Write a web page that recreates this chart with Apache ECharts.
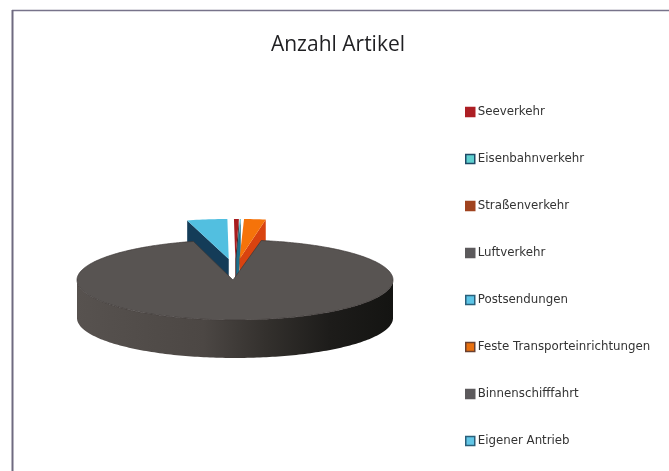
<!DOCTYPE html>
<html>
<head>
<meta charset="utf-8">
<script src="https://cdn.jsdelivr.net/npm/echarts@6/dist/echarts.min.js"></script>
<style>
html,body{margin:0;padding:0;background:#fff;}
#chart{width:669px;height:471px;}
</style>
</head>
<body>
<div id="chart"></div>
<script>
    // Werte aus dem Bild geschaetzt
    var categories = ['Seeverkehr','Eisenbahnverkehr','Straßenverkehr','Luftverkehr','Postsendungen','Feste Transporteinrichtungen','Binnenschifffahrt','Eigener Antrieb'];
    var values = [5,1,22,931,41,0,0,0];

    var topColors = ['#a81c1e','#3fb0c4','#f5730a','#585452','#52bfe0','#e8700f','#585452','#52bfe0'];
    var wallColors = ['#3f0f12','#1c6f8a','#d9430f','#4c4745','#143c58','#a8400f','#3a3634','#143c58'];
    var legendFill = ['#ad1f24','#5fd0d0','#a0431f','#5c5a5c','#5cc4e6','#e8700f','#5c5a5c','#62c6e6'];
    var legendBorder = ['#ad1f24','#1f4a66','#a0431f','#5c5a5c','#2a5f7a','#6a4030','#5c5a5c','#2a5f7a'];

    var cx = 235, cy = 280, rx = 158, ry = 40, depth = 38;
    var apexX = 233;
    var explode = 21;
    var startAngle = -0.5 * Math.PI / 180;
    var total = values.reduce(function (a, b) { return a + b; }, 0);

    function px(a, ox) { return cx + ox + rx * Math.sin(a); }
    function py(a, oy) { return cy + oy - ry * Math.cos(a); }

    function arc(a0, a1, ox, oy) {
        var pts = [], n = Math.max(2, Math.ceil(Math.abs(a1 - a0) / 0.02));
        for (var i = 0; i <= n; i++) {
            var a = a0 + (a1 - a0) * i / n;
            pts.push([px(a, ox), py(a, oy)]);
        }
        return pts;
    }

    function poly(points, fill, z2, stroke) {
        return {
            type: 'polygon',
            shape: { points: points },
            z2: z2,
            style: { fill: fill, stroke: stroke || null, lineWidth: stroke ? 0.7 : 0 }
        };
    }

    function renderSlice(params, api) {
        var i = params.seriesIndex;
        var v = api.value(0);
        if (!v) { return null; }
        var before = 0;
        for (var k = 0; k < i; k++) { before += values[k]; }
        var a0 = startAngle + before / total * Math.PI * 2;
        var a1 = startAngle + (before + v) / total * Math.PI * 2;
        var children = [];

        // die grosse Scheibe bleibt liegen, die kleinen Stuecke sind herausgezogen
        if (v / total > 0.5) {
            var w0 = Math.max(a0, Math.PI / 2), w1 = Math.min(a1, Math.PI * 1.5);
            var upper = arc(w0, w1, 0, 0), lower = arc(w1, w0, 0, depth);
            var grad = new echarts.graphic.LinearGradient(cx - rx, 0, cx + rx, 0, [
                { offset: 0, color: '#57524f' },
                { offset: 0.4, color: '#4c4744' },
                { offset: 0.6, color: '#33302d' },
                { offset: 0.8, color: '#1d1c1a' },
                { offset: 1, color: '#141412' }
            ], true);
            children.push(poly(upper.concat(lower), grad, 1));
            children.push(poly([[apexX, cy]].concat(arc(a0, a1, 0, 0)), topColors[i], 2, '#3d3836'));
        } else {
            var mid = (a0 + a1) / 2;
            var ox = 76 * 0.6 * Math.sin(mid), oy = -explode;
            var ax = cx + ox, ay = cy + oy;
            var rim = arc(a0, a1, ox, oy);
            var edge = a0 > Math.PI ? rim[0] : rim[rim.length - 1];
            // radiale Seitenwand, je nach Seite die linke oder rechte Kante
            children.push(poly([edge, [ax, ay], [ax, ay + depth], [edge[0], edge[1] + depth]], wallColors[i], 1));
            children.push(poly([[ax, ay]].concat(rim), topColors[i], 2));
        }
        return { type: 'group', children: children };
    }

    var series = categories.map(function (name, i) {
        return {
            name: name,
            type: 'custom',
            coordinateSystem: 'none',
            renderItem: renderSlice,
            silent: true,
            z: values[i] / total > 0.5 ? 5 : 3,
            data: [[values[i]]]
        };
    });

    var myChart = echarts.init(document.getElementById('chart'));
    myChart.setOption({
        animation: false,
        backgroundColor: '#ffffff',
        title: {
            text: 'Anzahl Artikel',
            left: 333,
            top: 30,
            textAlign: 'center',
            textStyle: { color: '#1f1f22', fontFamily: 'Open Sans', fontSize: 21, fontWeight: 'normal' }
        },
        legend: {
            orient: 'vertical',
            left: 465,
            top: 106,
            padding: 0,
            itemWidth: 9,
            itemHeight: 9,
            itemGap: 35,
            selectedMode: false,
            textStyle: { color: '#333', fontFamily: 'DejaVu Sans', fontSize: 11.8, padding: [0, 0, 0, -2] },
            data: categories.map(function (name, i) {
                return {
                    name: name,
                    icon: 'rect',
                    itemStyle: { color: legendFill[i], borderColor: legendBorder[i], borderWidth: 1.5 }
                };
            })
        },
        graphic: [
            { type: 'line', silent: true, shape: { x1: 12, y1: 10.5, x2: 669, y2: 10.5 }, style: { stroke: '#77738a', lineWidth: 1.5 } },
            { type: 'line', silent: true, shape: { x1: 12.5, y1: 10, x2: 12.5, y2: 471 }, style: { stroke: '#6f6a80', lineWidth: 2 } }
        ],
        series: series
    });
</script>
</body>
</html>
